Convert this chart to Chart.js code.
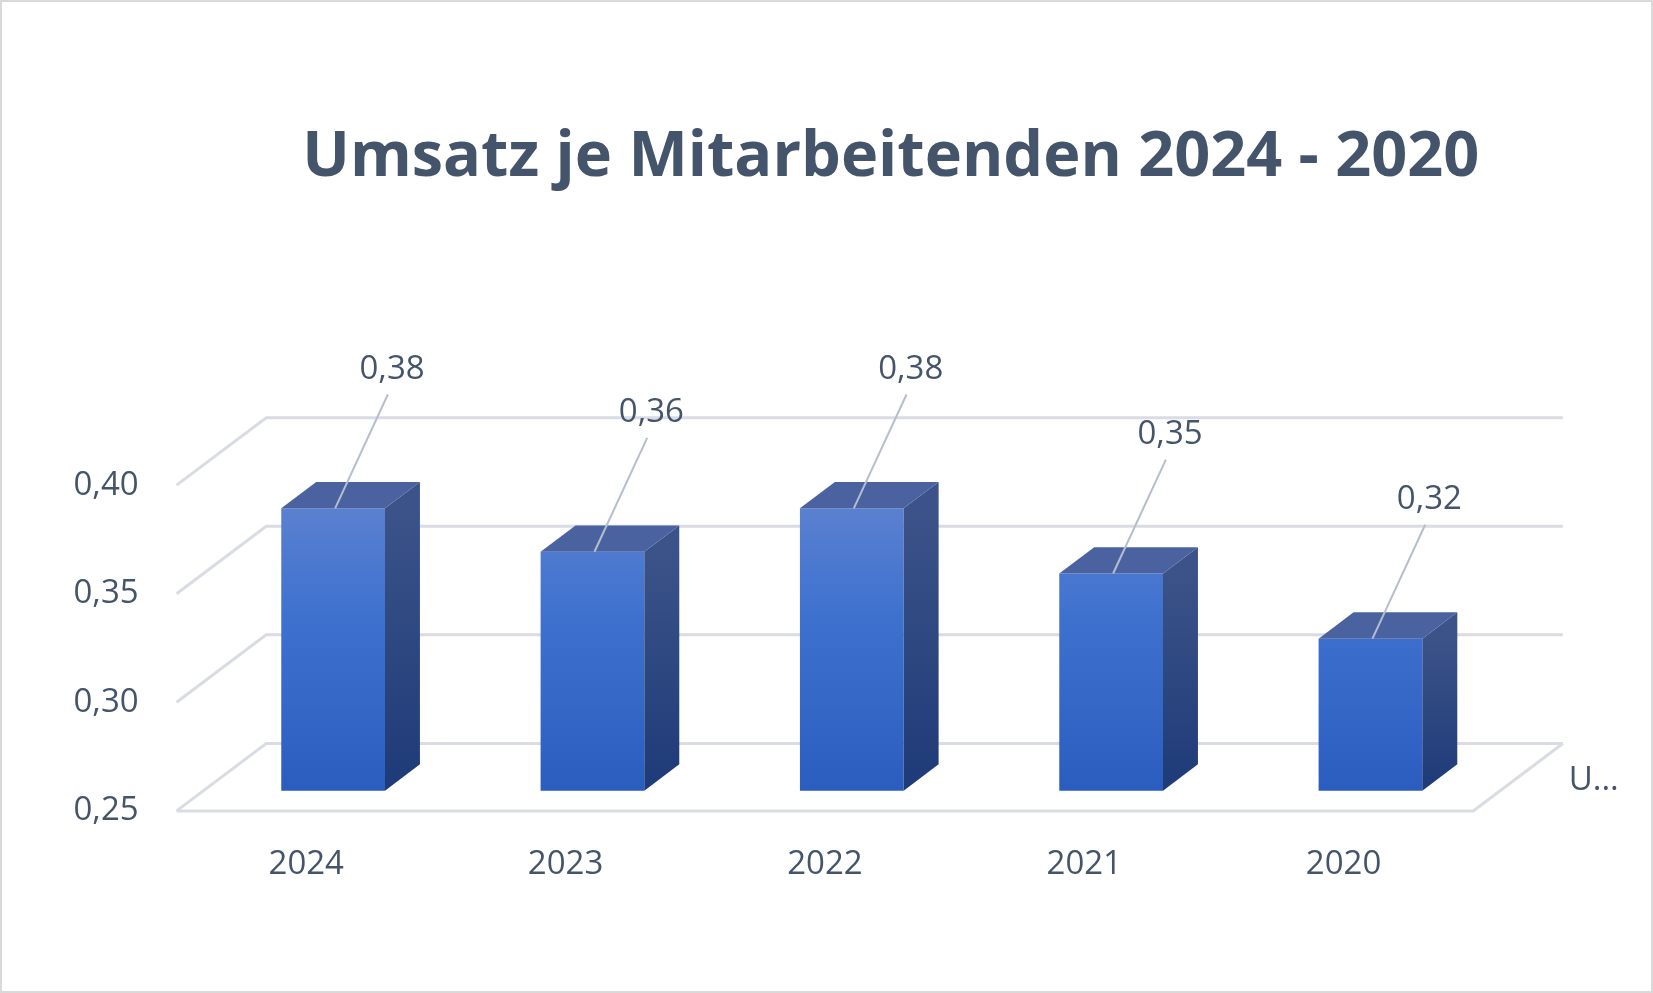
<!DOCTYPE html>
<html><head><meta charset="utf-8">
<script src="https://cdn.jsdelivr.net/npm/chart.js@4/dist/chart.umd.min.js"></script>
<style>html,body{margin:0;padding:0;background:#fff}canvas{display:block}</style>
</head><body>
<canvas id="c" width="1653" height="993"></canvas>
<script>
const categories = ['2024','2023','2022','2021','2020'];
const values = [0.38, 0.36, 0.38, 0.35, 0.32];
const yTicks = [0.25, 0.30, 0.35, 0.40];
const seriesName = 'U...';
const titleText = 'Umsatz je Mitarbeitenden 2024 - 2020';

const S = 1653/1568;
const D = {x: 85*S, y: -64*S};   // depth vector
const F = 0.3;                    // bar plane depth fraction
const TXT = '#44546A';
const fmt = v => v.toFixed(2).replace('.', ',');

const plugin3d = {
  id: 'p3d',
  beforeDatasetsDraw(chart) {
    const ctx = chart.ctx, y = chart.scales.y, a = chart.chartArea;
    ctx.save();
    ctx.strokeStyle = '#D9D9D9'; ctx.lineWidth = 2;
    ctx.strokeRect(1, 1, chart.width - 2, chart.height - 2);
    ctx.fillStyle = TXT; ctx.font = 'bold 63px "Open Sans", sans-serif';
    ctx.textAlign = 'center'; ctx.textBaseline = 'middle';
    ctx.fillText(titleText, 845*S, 150*S);
    ctx.strokeStyle = '#D9DCE3'; ctx.lineWidth = 3;
    const fl = a.left - F*D.x, br = a.right + (1-F)*D.x;
    yTicks.forEach((t, i) => {
      const p = y.getPixelForValue(t);
      const fy = p - F*D.y, by = p + (1-F)*D.y;
      ctx.beginPath();
      ctx.moveTo(fl, fy); ctx.lineTo(fl + D.x, by); ctx.lineTo(br, by);
      ctx.stroke();
      if (i === 0) {
        ctx.beginPath();
        ctx.moveTo(fl, fy); ctx.lineTo(br - D.x, fy); ctx.lineTo(br, by);
        ctx.stroke();
      }
      ctx.fillStyle = TXT; ctx.font = '33px "Open Sans", sans-serif';
      ctx.textAlign = 'right'; ctx.textBaseline = 'middle';
      ctx.fillText(fmt(t), fl - 36*S, fy);
    });
    ctx.textAlign = 'left';
    ctx.fillText(seriesName, 1488*S, 740*S);
    const meta = chart.getDatasetMeta(0);
    ctx.textAlign = 'center';
    meta.data.forEach((b, i) => {
      ctx.fillText(categories[i], b.x - F*D.x, 820*S);
    });
    ctx.restore();
  },
  afterDatasetsDraw(chart) {
    const ctx = chart.ctx, meta = chart.getDatasetMeta(0);
    const bt = chart.chartArea.bottom;
    const d = {x: D.x*0.39, y: D.y*0.39};
    ctx.save();
    meta.data.forEach((b, i) => {
      const l = b.x - b.width/2, r = b.x + b.width/2, t = b.y;
      let g = ctx.createLinearGradient(0, t, 0, bt);
      g.addColorStop(0, '#3B5388'); g.addColorStop(1, '#1E3A78');
      ctx.fillStyle = g;
      ctx.beginPath();
      ctx.moveTo(r, t); ctx.lineTo(r + d.x, t + d.y); ctx.lineTo(r + d.x, bt + d.y); ctx.lineTo(r, bt);
      ctx.closePath(); ctx.fill();
      ctx.fillStyle = '#4A62A0';
      ctx.beginPath();
      ctx.moveTo(l, t); ctx.lineTo(l + d.x, t + d.y); ctx.lineTo(r + d.x, t + d.y); ctx.lineTo(r, t);
      ctx.closePath(); ctx.fill();
      const sx = b.x + 2, sy = t;
      const ex = sx + 50*S, ey = sy - 108*S;
      ctx.strokeStyle = '#B4BECE'; ctx.lineWidth = 2;
      ctx.beginPath(); ctx.moveTo(sx, sy); ctx.lineTo(ex, ey); ctx.stroke();
      ctx.fillStyle = TXT; ctx.font = '33px "Open Sans", sans-serif';
      ctx.textAlign = 'center'; ctx.textBaseline = 'bottom';
      ctx.fillText(fmt(values[i]), ex + 4*S, ey - 8*S);
    });
    ctx.restore();
  }
};

const ctx = document.getElementById('c').getContext('2d');
new Chart(ctx, {
  type: 'bar',
  data: { labels: categories, datasets: [{
    label: seriesName, data: values,
    backgroundColor: (c) => {
      const a = c.chart.chartArea; if (!a) return '#3A6AC8';
      const el = c.element; const top = el && el.y ? el.y : a.top;
      const g = c.chart.ctx.createLinearGradient(0, top, 0, a.bottom);
      g.addColorStop(0, '#6686D0'); g.addColorStop(0.45, '#3F72CF'); g.addColorStop(1, '#2A5DBE');
      return g;
    },
    borderWidth: 0, barPercentage: 0.4, categoryPercentage: 1
  }]},
  options: {
    responsive: false, animation: false,
    layout: { padding: { left: 193*S, right: 1653 - 1423*S, top: 441*S, bottom: 993 - 750*S } },
    plugins: { legend: {display: false}, tooltip: {enabled: false}, title: {display: false} },
    scales: {
      x: { display: false },
      y: { display: false, min: 0.25, max: 0.40 }
    }
  },
  plugins: [plugin3d]
});
</script>
</body></html>
